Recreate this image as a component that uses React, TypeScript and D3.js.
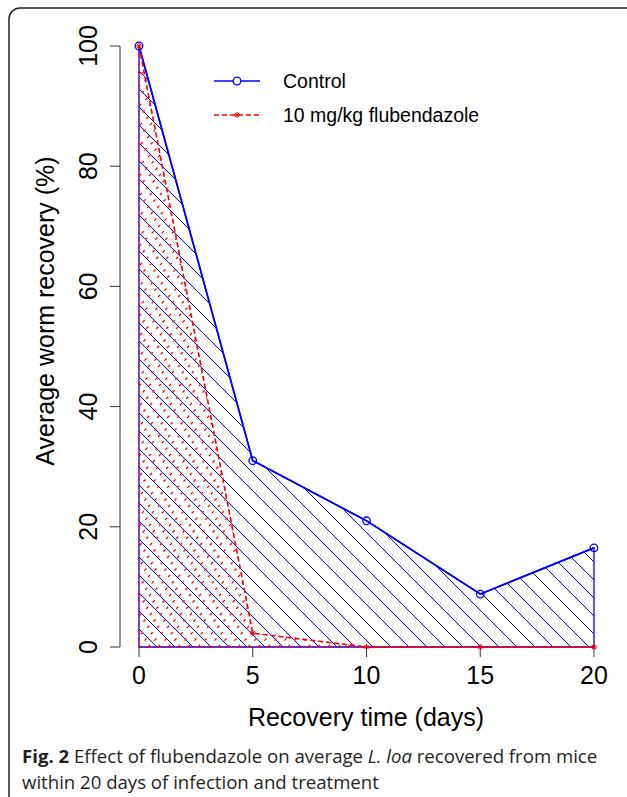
import { useMemo } from "react";
import * as d3 from "d3";

// data
const days = [0, 5, 10, 15, 20];
const control = [100, 31, 21, 8.8, 16.5];
const treated = [100, 2.3, 0, 0, 0];
const xTicks = [0, 5, 10, 15, 20];
const yTicks = [0, 20, 40, 60, 80, 100];
const seriesNames = ["Control", "10 mg/kg flubendazole"];

const W = 627;
const H = 797;
const BLUE = "#0000ff";
const RED = "#ff0000";
const FONT = "'Liberation Sans', Arial, Helvetica, sans-serif";

function hatchLines(x0: number, x1: number, y0: number, y1: number, step: number, dir: 1 | -1) {
  // lines at +/-45 degrees covering the box
  const h = y1 - y0;
  const out: [number, number, number, number][] = [];
  for (let c = x0 - h - step; c <= x1 + h + step; c += step) {
    if (dir === -1) out.push([c, y0, c + h, y1]); // down-right
    else out.push([c, y1, c + h, y0]); // up-right
  }
  return out;
}

export default function App() {
  const x = d3.scaleLinear().domain([0, 20]).range([139, 594]);
  const y = d3.scaleLinear().domain([0, 100]).range([647, 46]);

  const ctrl = days.map((d, i) => ({ d, v: control[i] }));
  const trt = days.map((d, i) => ({ d, v: treated[i] }));

  const area = d3.area<{ d: number; v: number }>()
    .x((p) => x(p.d)).y0(y(0)).y1((p) => y(p.v));
  const line = d3.line<{ d: number; v: number }>()
    .x((p) => x(p.d)).y((p) => y(p.v));

  const blueHatch = useMemo(() => hatchLines(x(0), x(20), y(100), y(0), 18, -1), []);
  const redHatch = useMemo(() => hatchLines(x(0), x(20), y(100), y(0), 10, 1), []);

  const star = (cx: number, cy: number, r: number, color: string, key?: string) => (
    <g key={key} stroke={color} strokeWidth={1}>
      <line x1={cx - r} y1={cy} x2={cx + r} y2={cy} />
      <line x1={cx} y1={cy - r} x2={cx} y2={cy + r} />
      <line x1={cx - r * 0.7} y1={cy - r * 0.7} x2={cx + r * 0.7} y2={cy + r * 0.7} />
      <line x1={cx - r * 0.7} y1={cy + r * 0.7} x2={cx + r * 0.7} y2={cy - r * 0.7} />
    </g>
  );

  return (
    <svg width={W} height={H} style={{ position: "absolute", left: 0, top: 0 }}>
      <rect x={0} y={0} width={W} height={H} fill="#fff" />
      <rect x={9} y={8} width={660} height={840} rx={11} fill="none" stroke="#222" strokeWidth={1.5} />

      <defs>
        <clipPath id="ctrlClip"><path d={area(ctrl) ?? ""} /></clipPath>
        <clipPath id="trtClip"><path d={area(trt) ?? ""} /></clipPath>
      </defs>

      {/* blue hatched control area */}
      <g clipPath="url(#ctrlClip)" stroke={BLUE} strokeWidth={1}>
        {blueHatch.map((l, i) => <line key={i} x1={l[0]} y1={l[1]} x2={l[2]} y2={l[3]} />)}
      </g>
      <path d={area(ctrl) ?? ""} fill="none" stroke={BLUE} strokeWidth={1.3} />
      <path d={line(ctrl) ?? ""} fill="none" stroke={BLUE} strokeWidth={1.8} />

      {/* red dashed hatch for treated */}
      <g clipPath="url(#trtClip)" stroke={RED} strokeWidth={1.3} strokeDasharray="3,6">
        {redHatch.map((l, i) => <line key={i} x1={l[0]} y1={l[1]} x2={l[2]} y2={l[3]} />)}
      </g>
      <path d={area(trt) ?? ""} fill="none" stroke={RED} strokeOpacity={0.6} strokeWidth={1.3} strokeDasharray="5,3" />
      <path d={line(trt) ?? ""} fill="none" stroke={RED} strokeWidth={1.5} strokeDasharray="5,3" />

      {/* markers */}
      {ctrl.map((p, i) => (
        <circle key={i} cx={x(p.d)} cy={y(p.v)} r={3.8} fill="none" stroke={BLUE} strokeWidth={1.3} />
      ))}
      {trt.map((p, i) => star(x(p.d), y(p.v), 3, RED, "s" + i))}

      {/* axes */}
      <g stroke="#333" strokeWidth={1}>
        <line x1={120} x2={120} y1={y(0)} y2={y(100)} />
        {yTicks.map((t) => <line key={t} x1={110} x2={120} y1={y(t)} y2={y(t)} />)}
        {xTicks.map((t) => <line key={t} x1={x(t)} x2={x(t)} y1={y(0)} y2={y(0) + 10} />)}
      </g>
      {yTicks.map((t) => (
        <text key={t} transform={`translate(97,${y(t)}) rotate(-90)`} textAnchor="middle"
          fontFamily={FONT} fontSize={25} fill="#000">{t}</text>
      ))}
      {xTicks.map((t) => (
        <text key={t} x={x(t)} y={684} textAnchor="middle" fontFamily={FONT} fontSize={25} fill="#000">{t}</text>
      ))}
      <text transform="translate(54,311) rotate(-90)" textAnchor="middle" fontFamily={FONT} fontSize={25} fill="#000">
        Average worm recovery (%)
      </text>
      <text x={366} y={726} textAnchor="middle" fontFamily={FONT} fontSize={25} fill="#000">
        Recovery time (days)
      </text>

      {/* legend */}
      <line x1={214} x2={260} y1={81} y2={81} stroke={BLUE} strokeWidth={1.5} />
      <circle cx={237} cy={81} r={3.8} fill="#fff" stroke={BLUE} strokeWidth={1.3} />
      <line x1={214} x2={260} y1={115} y2={115} stroke={RED} strokeWidth={1.3} strokeDasharray="5,3" />
      {star(237, 115, 3, RED)}
      <text x={283} y={88} fontFamily={FONT} fontSize={19.5} fill="#000">{seriesNames[0]}</text>
      <text x={283} y={122} fontFamily={FONT} fontSize={19.5} fill="#000">{seriesNames[1]}</text>

      {/* caption */}
      <text x={22} y={763} fontFamily="'Open Sans', sans-serif" fontSize={18.6} fill="#231f20">
        <tspan fontWeight="bold">Fig. 2</tspan> Effect of flubendazole on average <tspan fontStyle="italic">L. loa</tspan> recovered from mice
      </text>
      <text x={22} y={789} fontFamily="'Open Sans', sans-serif" fontSize={18.6} fill="#231f20">
        within 20 days of infection and treatment
      </text>
    </svg>
  );
}
